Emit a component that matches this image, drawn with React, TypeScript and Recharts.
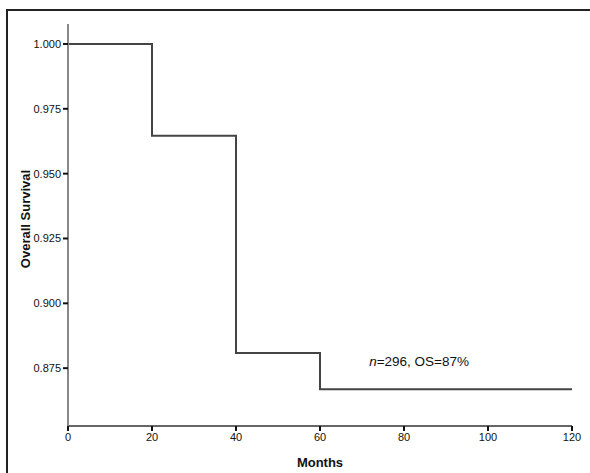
import React from 'react';
import { LineChart, Line, XAxis, YAxis, ReferenceDot } from 'recharts';

// Kaplan-Meier step points (months, survival)
const months = [0, 20, 40, 60, 120];
const survival = [1.0, 0.9646, 0.8808, 0.8669, 0.8669];
const xTicks = [0, 20, 40, 60, 80, 100, 120];
const yTicks = [0.875, 0.9, 0.925, 0.95, 0.975, 1.0];
const annotation = { month: 71.7, value: 0.8758, text: 'OS=87%', n: 296 };

const data = months.map((m, i) => ({ month: m, survival: survival[i] }));

const font = 'Liberation Sans, Arial, sans-serif';
const tickStyle = { fontFamily: font, fontSize: 11, fill: '#111' };
const labelStyle = {
  fontFamily: font,
  fontSize: 13,
  fontWeight: 'bold' as const,
  fill: '#111',
};

function AnnotationLabel(props: any) {
  const { viewBox } = props;
  return (
    <text x={viewBox.x} y={viewBox.y} fontFamily={font} fontSize={13.5} fill="#111">
      <tspan fontStyle="italic">n</tspan>
      <tspan>{`=${annotation.n}, ${annotation.text}`}</tspan>
    </text>
  );
}

function YTitle(props: any) {
  const { viewBox } = props;
  const cx = 25;
  const cy = viewBox.y + viewBox.height / 2 - 6;
  return (
    <text
      x={cx}
      y={cy}
      transform={`rotate(-90, ${cx}, ${cy})`}
      textAnchor="middle"
      dominantBaseline="central"
      style={labelStyle}
    >
      Overall Survival
    </text>
  );
}

export default function App() {
  return (
    <div
      style={{
        position: 'absolute',
        left: 0,
        top: 0,
        width: 590,
        height: 473,
        background: '#fff',
        overflow: 'hidden',
      }}
    >
      <div
        style={{
          position: 'absolute',
          left: 6,
          top: 9,
          width: 600,
          height: 480,
          borderLeft: '2px solid #222',
          borderTop: '2px solid #222',
        }}
      />
      <div style={{ position: 'absolute', left: 0, top: 0 }}>
        <LineChart
          width={590}
          height={473}
          data={data}
          margin={{ top: 24, right: 18, bottom: 1, left: 0 }}
        >
          <XAxis
            dataKey="month"
            type="number"
            domain={[0, 120]}
            ticks={xTicks}
            tick={tickStyle}
            tickSize={5}
            tickLine={{ stroke: '#111', strokeWidth: 2 }}
            axisLine={{ stroke: '#666', strokeWidth: 2 }}
            height={46}
            label={{ value: 'Months', position: 'insideBottom', offset: 5, style: labelStyle }}
          />
          <YAxis
            type="number"
            domain={[0.8527, 1.0077]}
            ticks={yTicks}
            tickFormatter={(v: number) => v.toFixed(3)}
            tick={tickStyle}
            tickSize={5}
            tickLine={{ stroke: '#111', strokeWidth: 2 }}
            axisLine={{ stroke: '#888', strokeWidth: 2 }}
            width={68}
            allowDataOverflow
            label={<YTitle />}
          />
          <Line
            type="stepAfter"
            dataKey="survival"
            stroke="#444"
            strokeWidth={2}
            dot={false}
            isAnimationActive={false}
          />
          <ReferenceDot
            x={annotation.month}
            y={annotation.value}
            r={0}
            fill="none"
            stroke="none"
            label={<AnnotationLabel />}
          />
        </LineChart>
      </div>
    </div>
  );
}
